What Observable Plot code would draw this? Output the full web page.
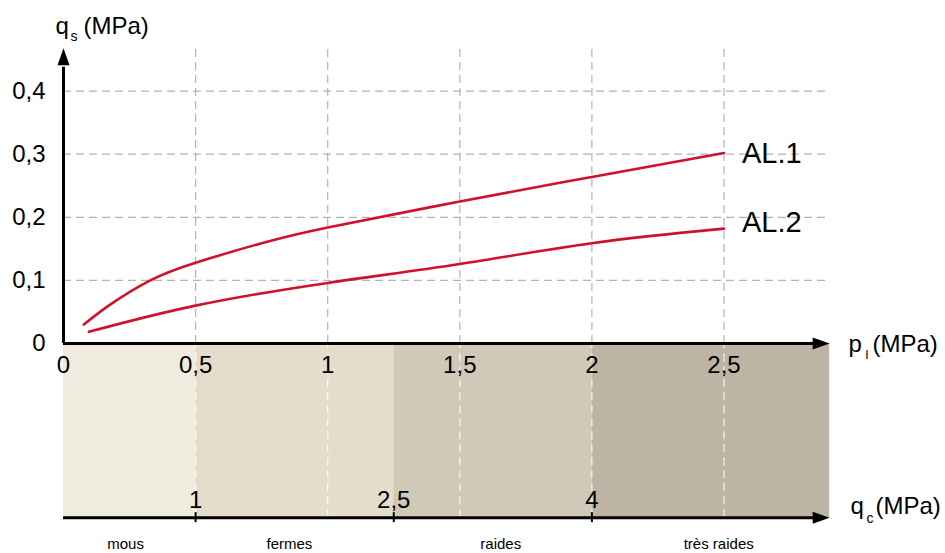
<!DOCTYPE html>
<html>
<head>
<meta charset="utf-8">
<script src="https://cdn.jsdelivr.net/npm/d3@7"></script>
<script src="https://cdn.jsdelivr.net/npm/@observablehq/plot@0.6"></script>
<style>
  html, body { margin: 0; padding: 0; background: #fff; }
  #chart svg { display: block; }
</style>
</head>
<body>
<div id="chart"></div>
<script>
// ---- data ----
const al1X = [0.077, 0.171, 0.323, 0.5, 0.75, 1.0, 1.5, 2.0, 2.5];
const al1Y = [0.030, 0.060, 0.099, 0.128, 0.159, 0.184, 0.225, 0.264, 0.302];
const al2X = [0.096, 0.5, 1.0, 1.5, 2.0, 2.5];
const al2Y = [0.0185, 0.060, 0.096, 0.126, 0.159, 0.182];
const seriesNames = ["AL.1", "AL.2"];

const xTicks = [0, 0.5, 1, 1.5, 2, 2.5];
const xTickLabels = ["0", "0,5", "1", "1,5", "2", "2,5"];
const yTicks = [0, 0.1, 0.2, 0.3, 0.4];
const yTickLabels = ["0", "0,1", "0,2", "0,3", "0,4"];

const qcTicks = [1, 2.5, 4];              // qc (MPa)
const qcTickLabels = ["1", "2,5", "4"];
const qcPerPl = 2;                        // qc axis drawn at qc / 2 on the pl scale

const zoneNames = ["mous", "fermes", "raides", "très raides"];
const zoneStarts = [0, 0.5, 1.25, 2.0];   // in pl units (qc 0, 1, 2.5, 4)
const zoneEnds = [0.5, 1.25, 2.0, 2.9];
const zoneColors = ["#efecdf", "#e5ddcb", "#d0c9b8", "#bdb4a3"];
const zoneLabelX = [0.235, 0.855, 1.655, 2.48];

// ---- layout constants ----
const xAxisEnd = 2.9;
const yAxisEnd = 0.468;
const bandBottom = -0.276;
const red = "#d0112b";
const grid = "#b4b4b4";

const al1 = al1X.map((x, i) => ({x, y: al1Y[i]}));
const al2 = al2X.map((x, i) => ({x, y: al2Y[i]}));
const zones = zoneNames.map((name, i) => ({name, x1: zoneStarts[i], x2: zoneEnds[i], color: zoneColors[i], lx: zoneLabelX[i]}));

const arrowRight = {draw(ctx) { ctx.moveTo(0, 0); ctx.lineTo(-17, -6); ctx.lineTo(-17, 6); ctx.closePath(); }};
const arrowUp = {draw(ctx) { ctx.moveTo(0, 0); ctx.lineTo(-6, 17); ctx.lineTo(6, 17); ctx.closePath(); }};

const font = "Liberation Sans, Arial, Helvetica, sans-serif";
const label = (txt, dx, dy, size) => Plot.text([txt], {frameAnchor: "top-left", text: d => d, dx, dy, fontSize: size, textAnchor: "start", lineAnchor: "bottom", fill: "black"});

const chart = Plot.plot({
  width: 945,
  height: 553,
  margin: 0,
  x: {domain: [-0.2385, 3.3384], axis: null},
  y: {domain: [-0.3328, 0.5436], axis: null},
  color: {type: "identity"},
  style: {fontFamily: font, background: "white", overflow: "visible"},
  marks: [
    // soil band
    Plot.rect(zones, {x1: "x1", x2: "x2", y1: 0, y2: bandBottom, fill: "color"}),
    // grid
    Plot.ruleX(xTicks.slice(1), {y1: bandBottom, y2: 0, stroke: "white", strokeOpacity: 0.85, strokeWidth: 1.2, strokeDasharray: "8,5"}),
    Plot.ruleX(xTicks.slice(1), {y1: 0, y2: yAxisEnd, stroke: grid, strokeWidth: 1.2, strokeDasharray: "8,5"}),
    Plot.ruleY(yTicks.slice(1), {x1: 0, x2: xAxisEnd, stroke: grid, strokeWidth: 1.2, strokeDasharray: "8,5"}),
    // curves
    Plot.line(al1, {x: "x", y: "y", stroke: red, strokeWidth: 2.6, curve: "natural"}),
    Plot.line(al2, {x: "x", y: "y", stroke: red, strokeWidth: 2.6, curve: "natural"}),
    Plot.text([al1[al1.length - 1]], {x: "x", y: "y", text: () => seriesNames[0], dx: 18, dy: 1, textAnchor: "start", fontSize: 29}),
    Plot.text([al2[al2.length - 1]], {x: "x", y: "y", text: () => seriesNames[1], dx: 18, dy: -6, textAnchor: "start", fontSize: 29}),
    // axes
    Plot.ruleY([0], {x1: 0, x2: xAxisEnd - 0.03, stroke: "black", strokeWidth: 3}),
    Plot.ruleX([0], {y1: 0, y2: yAxisEnd - 0.03, stroke: "black", strokeWidth: 3}),
    Plot.ruleY([bandBottom], {x1: 0, x2: xAxisEnd - 0.03, stroke: "black", strokeWidth: 3}),
    Plot.dot([0], {x: xAxisEnd, y: 0, symbol: arrowRight, fill: "black", stroke: null}),
    Plot.dot([0], {x: 0, y: yAxisEnd, symbol: arrowUp, fill: "black", stroke: null}),
    Plot.dot([0], {x: xAxisEnd, y: bandBottom, symbol: arrowRight, fill: "black", stroke: null}),
    // qc ticks
    Plot.ruleX(qcTicks, {x: d => d / qcPerPl, y1: bandBottom, y2: bandBottom, insetTop: -5, insetBottom: -5, stroke: "black", strokeWidth: 2}),
    Plot.text(qcTicks, {x: d => d / qcPerPl, y: bandBottom, text: (d, i) => qcTickLabels[i], dy: -10, lineAnchor: "bottom", fontSize: 24}),
    // tick labels
    Plot.text(xTicks, {x: d => d, y: 0, text: (d, i) => xTickLabels[i], dy: 22, fontSize: 24}),
    Plot.text(yTicks, {x: 0, y: d => d, text: (d, i) => yTickLabels[i], dx: -18, textAnchor: "end", fontSize: 24}),
    // zone labels
    Plot.text(zones, {x: "lx", y: bandBottom, text: "name", dy: 31, lineAnchor: "bottom", fontSize: 15}),
    // axis titles
    label("q", 55, 33, 24), label("s", 70, 40, 14), label("(MPa)", 83, 33, 24),
    label("p", 848, 351, 24), label("l", 865, 358, 13), label("(MPa)", 872, 351, 24),
    label("q", 850, 513, 24), label("c", 866, 522, 14), label("(MPa)", 875, 513, 24)
  ]
});
document.getElementById("chart").append(chart);
</script>
</body>
</html>
